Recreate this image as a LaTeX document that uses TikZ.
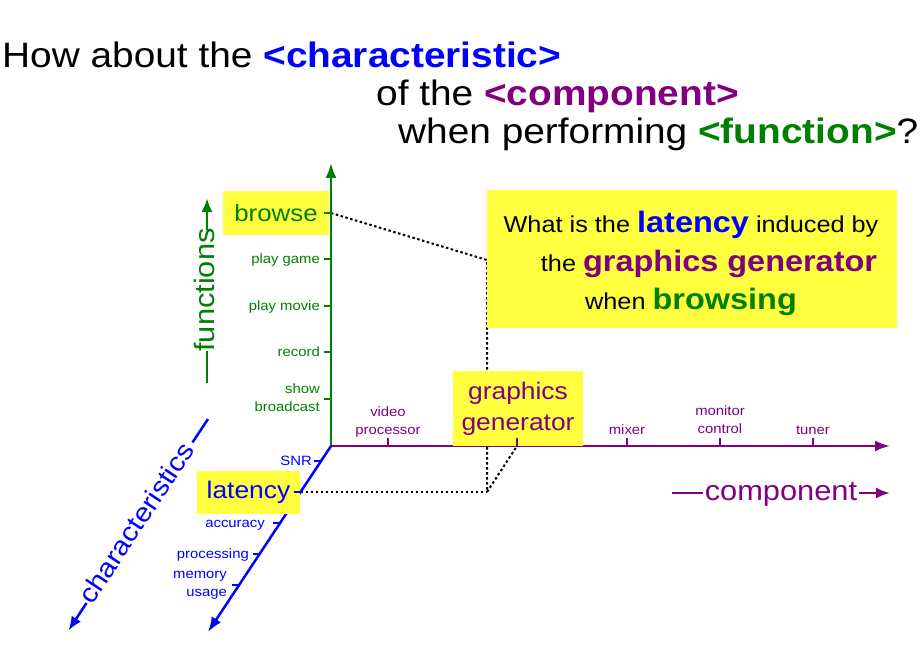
\documentclass[tikz,border=0pt]{standalone}
\usepackage{fontspec}
\setmainfont[FakeStretch=1.1]{Liberation Sans}
\usetikzlibrary{arrows.meta}
\definecolor{cblue}{RGB}{0,0,255}
\definecolor{cpurp}{RGB}{128,0,128}
\definecolor{cgreen}{RGB}{0,128,0}
\definecolor{hl}{RGB}{255,255,64}
\newcommand\myfs[2]{\fontsize{#1}{#2}\selectfont}
\begin{document}
\begin{tikzpicture}[x=1pt,y=-1pt,
  axis/.style={line width=2.5pt,-{Latex[length=15pt,width=11pt]}},
  deco/.style={line width=2.5pt},
  decoarr/.style={line width=2.5pt,-{Latex[length=14pt,width=11pt]}},
  tickl/.style={line width=2pt},
  hlbox/.style={fill=hl, inner sep=0pt, align=center},
  dotline/.style={black, line width=2pt, dash pattern=on 2.5pt off 2.5pt},
  small/.style={font=\myfs{13.5}{18}, inner sep=0pt, align=center},
  title/.style={anchor=base west, inner sep=0pt, font=\myfs{35.3}{40}}]
\useasboundingbox (0,0) rectangle (920,660);

% title
\node[title] (t1) at (2,68) {How about the \textcolor{cblue}{\bfseries <characteristic>}};
\node[title] (t2) at (376,106) {of the \textcolor{cpurp}{\bfseries <component>}};
\node[title] (t3) at (398,144) {when performing \textcolor{cgreen}{\bfseries <function>}?};

% key coordinates
\coordinate (O) at (331,446);
\coordinate (ftop) at (331,163);
\coordinate (cend) at (890,446);
\coordinate (kend) at (208,632);
\coordinate (fb) at (331,213);
\coordinate (fg) at (331,259);
\coordinate (fm) at (331,306);
\coordinate (fr) at (331,352);
\coordinate (fs) at (331,399);
\coordinate (cv) at (388,446);
\coordinate (cg) at (517,446);
\coordinate (cm) at (627,446);
\coordinate (cc) at (720,446);
\coordinate (ct) at (813,446);
\coordinate (ks) at (321.1,461);
\coordinate (kl) at (300.6,492);
\coordinate (ka) at (280.1,523);
\coordinate (kp) at (259.6,554);
\coordinate (km) at (239.1,585);
\coordinate (P) at (487,492);
\coordinate (Q) at (487,260);

% dotted guide lines
\draw[dotline] (fb) -- (Q) -- (P) -- (cg);
\draw[dotline] (kl) -- (P);

% axes
\draw[axis, cgreen] (O) -- (ftop);
\draw[axis, cpurp] (O) -- (cend);
\draw[axis, cblue] (O) -- (kend);

% highlight boxes
\node[hlbox, minimum width=106pt, minimum height=44pt, text=cgreen, font=\myfs{23.5}{28}] (browse) at (276,213) {browse};
\node[hlbox, minimum width=103pt, minimum height=43pt, text=cblue, font=\myfs{24}{28}] (latency) at (248.5,492.5) {latency};
\node[hlbox, minimum width=130pt, minimum height=75pt, text=cpurp, font=\myfs{24}{31}] (gg) at (518,408.5) {graphics\\generator};
\node[hlbox, minimum width=410pt, minimum height=138pt] (q) at (692,259) {};
\node[inner sep=0pt, align=center, font=\myfs{23}{38.5}] (qt) at (691,263.5)
  {What is the \textcolor{cblue}{\bfseries\myfs{29.5}{34}latency} induced by\\
   \hspace*{36pt}the \textcolor{cpurp}{\bfseries\myfs{29.5}{34}graphics generator}\\
   when \textcolor{cgreen}{\bfseries\myfs{29.5}{34}browsing}};

% function ticks and labels
\foreach \c in {fb,fg,fm,fr,fs} \draw[tickl, cgreen] (\c) -- ++(-7,0);
\node[small, text=cgreen, anchor=base east] (lg) at (320,263.5) {play game};
\node[small, text=cgreen, anchor=base east] (lm) at (320,310.5) {play movie};
\node[small, text=cgreen, anchor=base east] (lr) at (320,356.5) {record};
\node[small, text=cgreen, anchor=east, align=right] (ls) at (320,398) {show\\broadcast};

% component ticks and labels
\foreach \c in {cv,cg,cm,cc,ct} \draw[tickl, cpurp] (\c) -- ++(0,-8);
\node[small, text=cpurp, anchor=south] (lv) at (388,437) {video\\processor};
\node[small, text=cpurp, anchor=base] (lx) at (627,434) {mixer};
\node[small, text=cpurp, anchor=south] (lc) at (720,434) {monitor\\control};
\node[small, text=cpurp, anchor=base] (lt) at (813,434) {tuner};

% characteristic ticks and labels
\foreach \c in {ks,kl,ka,kp,km} \draw[tickl, cblue] (\c) -- ++(-7,0);
\node[small, text=cblue, anchor=base east] (lsn) at (312,465) {SNR};
\node[small, text=cblue, anchor=base east] (la) at (265,527.5) {accuracy};
\node[small, text=cblue, anchor=base east] (lp) at (249,558.5) {processing};
\node[small, text=cblue, anchor=east, align=right] (lmu) at (227,585) {memory\\usage};

% axis titles
\node[rotate=90, anchor=base, inner sep=0pt, text=cgreen, font=\myfs{28}{32}] (fn) at (214.5,290) {functions};
\coordinate (fn1) at (207,383);
\coordinate (fn2) at (207,351);
\coordinate (fn3) at (207,230);
\coordinate (fn4) at (207,198);
\draw[deco, cgreen] (fn1) -- (fn2);
\draw[decoarr, cgreen] (fn3) -- (fn4);

\node[anchor=base, inner sep=0pt, text=cpurp, font=\myfs{28}{32}] (cp) at (781,500) {component};
\coordinate (cp1) at (672,493);
\coordinate (cp2) at (703,493);
\coordinate (cp3) at (859,493);
\coordinate (cp4) at (890,493);
\draw[deco, cpurp] (cp1) -- (cp2);
\draw[decoarr, cpurp] (cp3) -- (cp4);

\node[rotate=56.5, anchor=base, inner sep=0pt, text=cblue, font=\myfs{26.5}{30}] (ch) at (144,528) {characteristics};
\coordinate (ch1) at (208,419);
\coordinate (ch2) at (192.5,442.5);
\coordinate (ch3) at (86.5,603);
\coordinate (ch4) at (68.5,630.5);
\draw[deco, cblue] (ch1) -- (ch2);
\draw[decoarr, cblue] (ch3) -- (ch4);
\end{tikzpicture}
\end{document}
